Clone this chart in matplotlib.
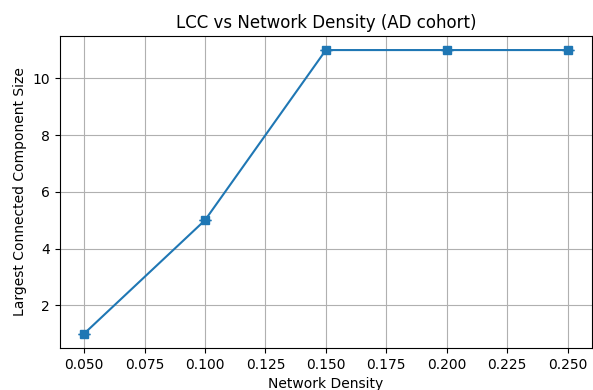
import matplotlib.pyplot as plt
import numpy as np

densities = [0.05, 0.10, 0.15, 0.20, 0.25]
lcc_sizes = [1, 5, 11, 11, 11]
lcc_err = [0, 0, 0, 0, 0]

fig = plt.figure(figsize=(5.93, 3.9), dpi=100)
ax = fig.add_axes([0.101, 0.108, 0.897, 0.8])

ax.errorbar(densities, lcc_sizes, yerr=lcc_err, marker='s', capsize=4, color='#1f77b4')

ax.set_title("LCC vs Network Density (AD cohort)")
ax.set_xlabel("Network Density")
ax.set_ylabel("Largest Connected Component Size")
ax.set_xticks(np.arange(0.05, 0.2501, 0.025))
ax.grid(True)

plt.savefig("out.png", dpi=100)
